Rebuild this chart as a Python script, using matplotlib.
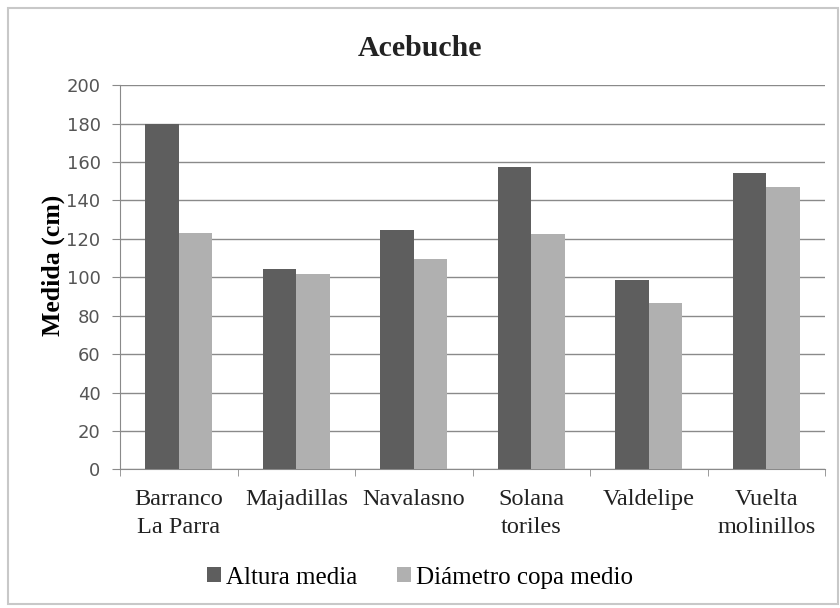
import matplotlib.pyplot as plt
import numpy as np
from matplotlib.patches import Rectangle

categories = ["Barranco\nLa Parra", "Majadillas", "Navalasno", "Solana\ntoriles", "Valdelipe", "Vuelta\nmolinillos"]
altura = [180, 104.5, 124.5, 157.5, 98.5, 154.5]
diametro = [123, 101.5, 109.5, 122.5, 86.5, 147]
series_names = ["Altura media", "Diámetro copa medio"]

serif = ["Liberation Serif", "DejaVu Serif"]

fig = plt.figure(figsize=(8.4, 6.08), dpi=100)
ax = fig.add_axes([0.1429, 0.228, 0.8393, 0.632])

x = np.arange(len(categories))
w = 0.285
ax.bar(x - w / 2, altura, w, color="#5e5e5e", label=series_names[0], zorder=3)
ax.bar(x + w / 2, diametro, w, color="#b0b0b0", label=series_names[1], zorder=3)

ax.set_xlim(-0.5, len(categories) - 0.5)
ax.set_ylim(0, 200)
ax.set_yticks(range(0, 201, 20))
ax.yaxis.grid(True, color="#8a8a8a", linewidth=1.0, zorder=0)
ax.set_axisbelow(True)

for s in ["top", "right"]:
    ax.spines[s].set_visible(False)
ax.spines["left"].set_color("#8a8a8a")
ax.spines["bottom"].set_color("#8a8a8a")

ax.tick_params(axis="y", length=6, color="#8a8a8a", labelsize=13, labelcolor="#555555", pad=8)
ax.set_xticks(x)
ax.set_xticklabels(categories, fontfamily=serif, fontsize=17.5, color="#222222", linespacing=1.45)
ax.tick_params(axis="x", length=0, pad=14)
ax.set_xticks(np.arange(-0.5, len(categories)), minor=True)
ax.tick_params(axis="x", which="minor", length=5, color="#8a8a8a")

ax.set_ylabel("Medida (cm)", fontfamily=serif, fontsize=18.5, fontweight="bold")
ax.yaxis.set_label_coords(-0.078, 0.53)
fig.text(0.5, 0.92, "Acebuche", ha="center", va="center", fontfamily=serif,
         fontsize=21.5, fontweight="bold", color="#222222")

fig.legend(loc="center", bbox_to_anchor=(0.5, 0.05), ncol=2, frameon=False,
           prop={"family": serif, "size": 18}, handlelength=0.55, handleheight=0.55,
           handletextpad=0.2, columnspacing=1.6)

fig.patches.append(Rectangle((8 / 840, 4 / 608), 830 / 840, 596 / 608, transform=fig.transFigure,
                             fill=False, edgecolor="#c8c8c8", linewidth=1.5))

fig.savefig("out.png", dpi=100)
